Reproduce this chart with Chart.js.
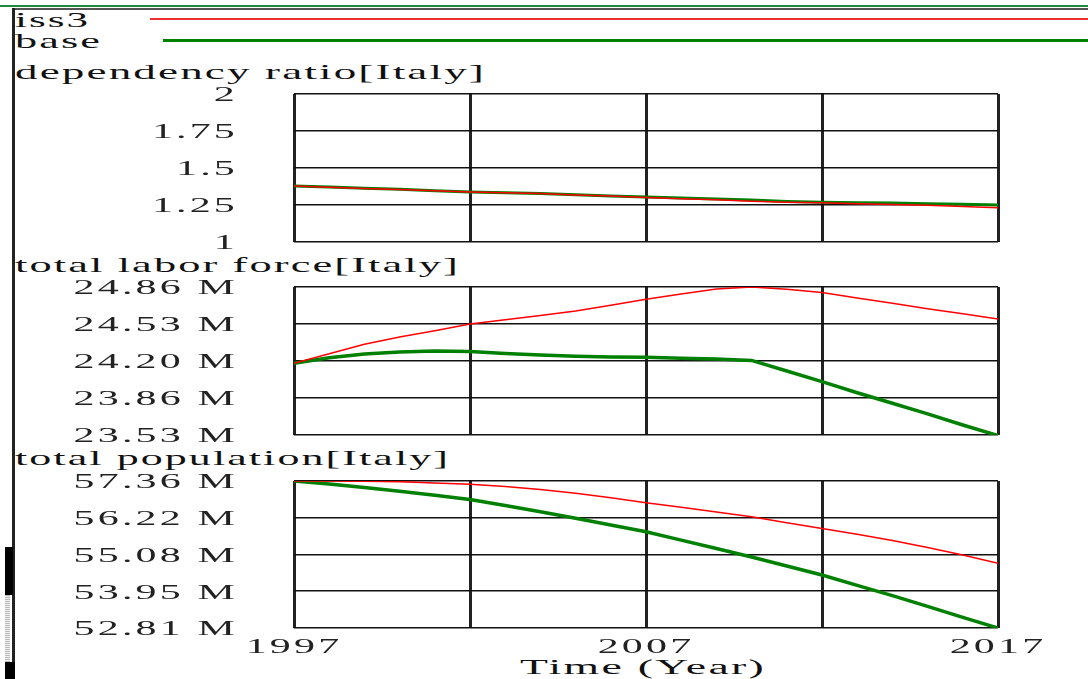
<!DOCTYPE html>
<html>
<head>
<meta charset="utf-8">
<script src="https://cdn.jsdelivr.net/npm/chart.js@4.4.0/dist/chart.umd.min.js"></script>
<style>
  html, body { margin: 0; padding: 0; background: #fff; }
  body { width: 1088px; height: 679px; position: relative; overflow: hidden; font-family: "Liberation Serif", serif; }
  .abs { position: absolute; }
  .lbl { position: absolute; white-space: nowrap; font-size: 21px; line-height: 21px; letter-spacing: 1px; color: #111; transform-origin: 0 0; }
  canvas { position: absolute; left: 0; }
</style>
</head>
<body>
  <!-- frame + legend lines -->
  <div class="abs" style="left:0;top:5px;width:1088px;height:2px;background:#1f8a3e"></div>
  <div class="abs" style="left:12px;top:8px;width:1076px;height:2px;background:#555"></div>
  <div class="abs" style="left:12px;top:8px;width:3px;height:671px;background:#222"></div>
  <div class="abs" style="left:5px;top:547px;width:8px;height:48px;background:#000"></div>
  <div class="abs" style="left:5px;top:595px;width:5px;height:67px;background:repeating-linear-gradient(#bbb 0 1px,#eee 1px 2px)"></div>
  <div class="abs" style="left:5px;top:662px;width:10px;height:17px;background:#000"></div>
  <div class="abs" style="left:150px;top:18px;width:938px;height:2px;background:#f03030"></div>
  <div class="abs" style="left:163px;top:39px;width:925px;height:3px;background:#008000"></div>

  <div class="lbl" data-w="75" style="left:15px;top:10px">iss3</div>
  <div class="lbl" data-w="87" style="left:15px;top:31px">base</div>
  <div class="lbl" data-w="471" style="left:15px;top:62px">dependency ratio[Italy]</div>
  <div class="lbl" data-w="445" style="left:15px;top:255px">total labor force[Italy]</div>
  <div class="lbl" data-w="435" style="left:15px;top:448px">total population[Italy]</div>
  <div class="lbl" data-w="246" style="left:520px;top:657px;font-size:20px">Time (Year)</div>

  <canvas id="depChart" width="1088" height="188" style="top:74px;width:1088px;height:188px"></canvas>
  <canvas id="laborChart" width="1088" height="188" style="top:267px;width:1088px;height:188px"></canvas>
  <canvas id="popChart" width="1088" height="218" style="top:461px;width:1088px;height:218px"></canvas>

<script>
// --- DATA ---
const years = [1997, 1998, 1999, 2000, 2001, 2002, 2003, 2004, 2005, 2006, 2007,
               2008, 2009, 2010, 2011, 2012, 2013, 2014, 2015, 2016, 2017];
const xTickLabels = ['1997', '', '2007', '', '2017'];

const depBase = [1.378, 1.372, 1.364, 1.356, 1.347, 1.338, 1.333, 1.327, 1.320, 1.311, 1.304,
                 1.297, 1.290, 1.283, 1.274, 1.269, 1.266, 1.263, 1.259, 1.255, 1.250];
const depIss3 = [1.378, 1.370, 1.362, 1.355, 1.347, 1.338, 1.333, 1.327, 1.318, 1.310, 1.300,
                 1.293, 1.285, 1.275, 1.268, 1.265, 1.258, 1.253, 1.248, 1.240, 1.232];
const depTicks = ['2', '1.75', '1.5', '1.25', '1'];

// millions
const laborBase = [24.175, 24.225, 24.258, 24.275, 24.284, 24.280, 24.262, 24.248, 24.238, 24.232, 24.228,
                   24.220, 24.212, 24.200, 24.105, 24.010, 23.910, 23.815, 23.720, 23.620, 23.525];
const laborIss3 = [24.175, 24.260, 24.345, 24.410, 24.467, 24.527, 24.566, 24.604, 24.644, 24.697, 24.749,
                   24.797, 24.842, 24.860, 24.840, 24.810, 24.761, 24.713, 24.665, 24.619, 24.572];
const laborTicks = ['24.86 M', '24.53 M', '24.20 M', '23.86 M', '23.53 M'];

const popBase = [57.36, 57.27, 57.16, 57.04, 56.92, 56.79, 56.60, 56.41, 56.21, 56.00, 55.79,
                 55.53, 55.27, 55.01, 54.73, 54.45, 54.13, 53.81, 53.48, 53.14, 52.81];
const popIss3 = [57.36, 57.36, 57.35, 57.34, 57.30, 57.26, 57.19, 57.10, 56.98, 56.84, 56.69,
                 56.55, 56.40, 56.25, 56.07, 55.89, 55.71, 55.52, 55.30, 55.07, 54.81];
const popTicks = ['57.36 M', '56.22 M', '55.08 M', '53.95 M', '52.81 M'];

// --- LAYOUT CONSTANTS ---
const PLOT_LEFT = 294, PLOT_RIGHT = 998, STRETCH = 2.1;
const tickFont = { family: 'Liberation Serif', size: 20 };

// stretch labels sideways, like the bitmap font in the original
const stretchLabels = {
    id: 'stretchLabels',
    afterLayout(chart) {
        Object.values(chart.scales).forEach(scale => {
            if (scale._stretched) return;
            const orig = scale.drawLabels;
            const dy = scale.axis === 'y' ? 2 : 0;
            scale.drawLabels = function (area) {
                const ctx = this.ctx;
                const fill = CanvasRenderingContext2D.prototype.fillText;
                ctx.fillText = function (text, x, y) {
                    this.save();
                    this.translate(x, y + dy);
                    this.scale(STRETCH, 1);
                    this.letterSpacing = '1.5px';
                    fill.call(this, text, 0, 0);
                    this.restore();
                };
                orig.call(this, area);
                delete ctx.fillText;
            };
            scale._stretched = true;
        });
    }
};

function toPoints(values) {
    return values.map((v, i) => ({ x: years[i], y: v }));
}

function makePanel(id, base, iss3, tickLabels, showX, greenWidth) {
    const min = parseFloat(tickLabels[tickLabels.length - 1]);
    const max = parseFloat(tickLabels[0]);
    const canvas = document.getElementById(id);
    return new Chart(canvas.getContext('2d'), {
        type: 'line',
        data: {
            datasets: [
                { label: 'iss3', data: toPoints(iss3), borderColor: '#ff0000', borderWidth: 1.5, pointRadius: 0, tension: 0 },
                { label: 'base', data: toPoints(base), borderColor: '#008000', borderWidth: greenWidth, pointRadius: 0, tension: 0 }
            ]
        },
        options: {
            responsive: false,
            animation: false,
            layout: { padding: { left: 0, right: 1088 - PLOT_RIGHT, top: 20, bottom: showX ? 0 : 20 } },
            plugins: { legend: { display: false }, tooltip: { enabled: false } },
            scales: {
                x: {
                    type: 'linear', min: years[0], max: years[years.length - 1],
                    afterBuildTicks: axis => { axis.ticks = xTickLabels.map((t, i) => ({ value: years[0] + i * 5 })); },
                    afterFit: axis => { axis.height = showX ? 51 : 0; },
                    border: { display: false },
                    grid: { color: '#222', lineWidth: 3, drawTicks: false },
                    ticks: {
                        display: showX, padding: 8, color: '#222', font: tickFont, maxRotation: 0, autoSkip: false,
                        callback: (v, i) => xTickLabels[i]
                    }
                },
                y: {
                    min: min, max: max,
                    afterBuildTicks: axis => { axis.ticks = tickLabels.map((t, i) => ({ value: min + i * (max - min) / 4 })); },
                    afterFit: axis => { axis.width = PLOT_LEFT; },
                    border: { display: false },
                    grid: { color: '#111', lineWidth: 1.5, drawTicks: true, tickLength: 56, tickColor: 'rgba(0,0,0,0)' },
                    ticks: {
                        padding: 0, color: '#222', font: tickFont,
                        callback: (v, i) => tickLabels[tickLabels.length - 1 - i]
                    }
                }
            }
        },
        plugins: [stretchLabels]
    });
}

document.querySelectorAll('.lbl').forEach(el => {
    const w = el.getBoundingClientRect().width;
    el.style.transform = `scaleX(${el.dataset.w / w})`;
});

const charts = [
    makePanel('depChart', depBase, depIss3, depTicks, false, 3),
    makePanel('laborChart', laborBase, laborIss3, laborTicks, false, 3.5),
    makePanel('popChart', popBase, popIss3, popTicks, true, 3.5)
];
charts.forEach(c => c.draw());
</script>
</body>
</html>
